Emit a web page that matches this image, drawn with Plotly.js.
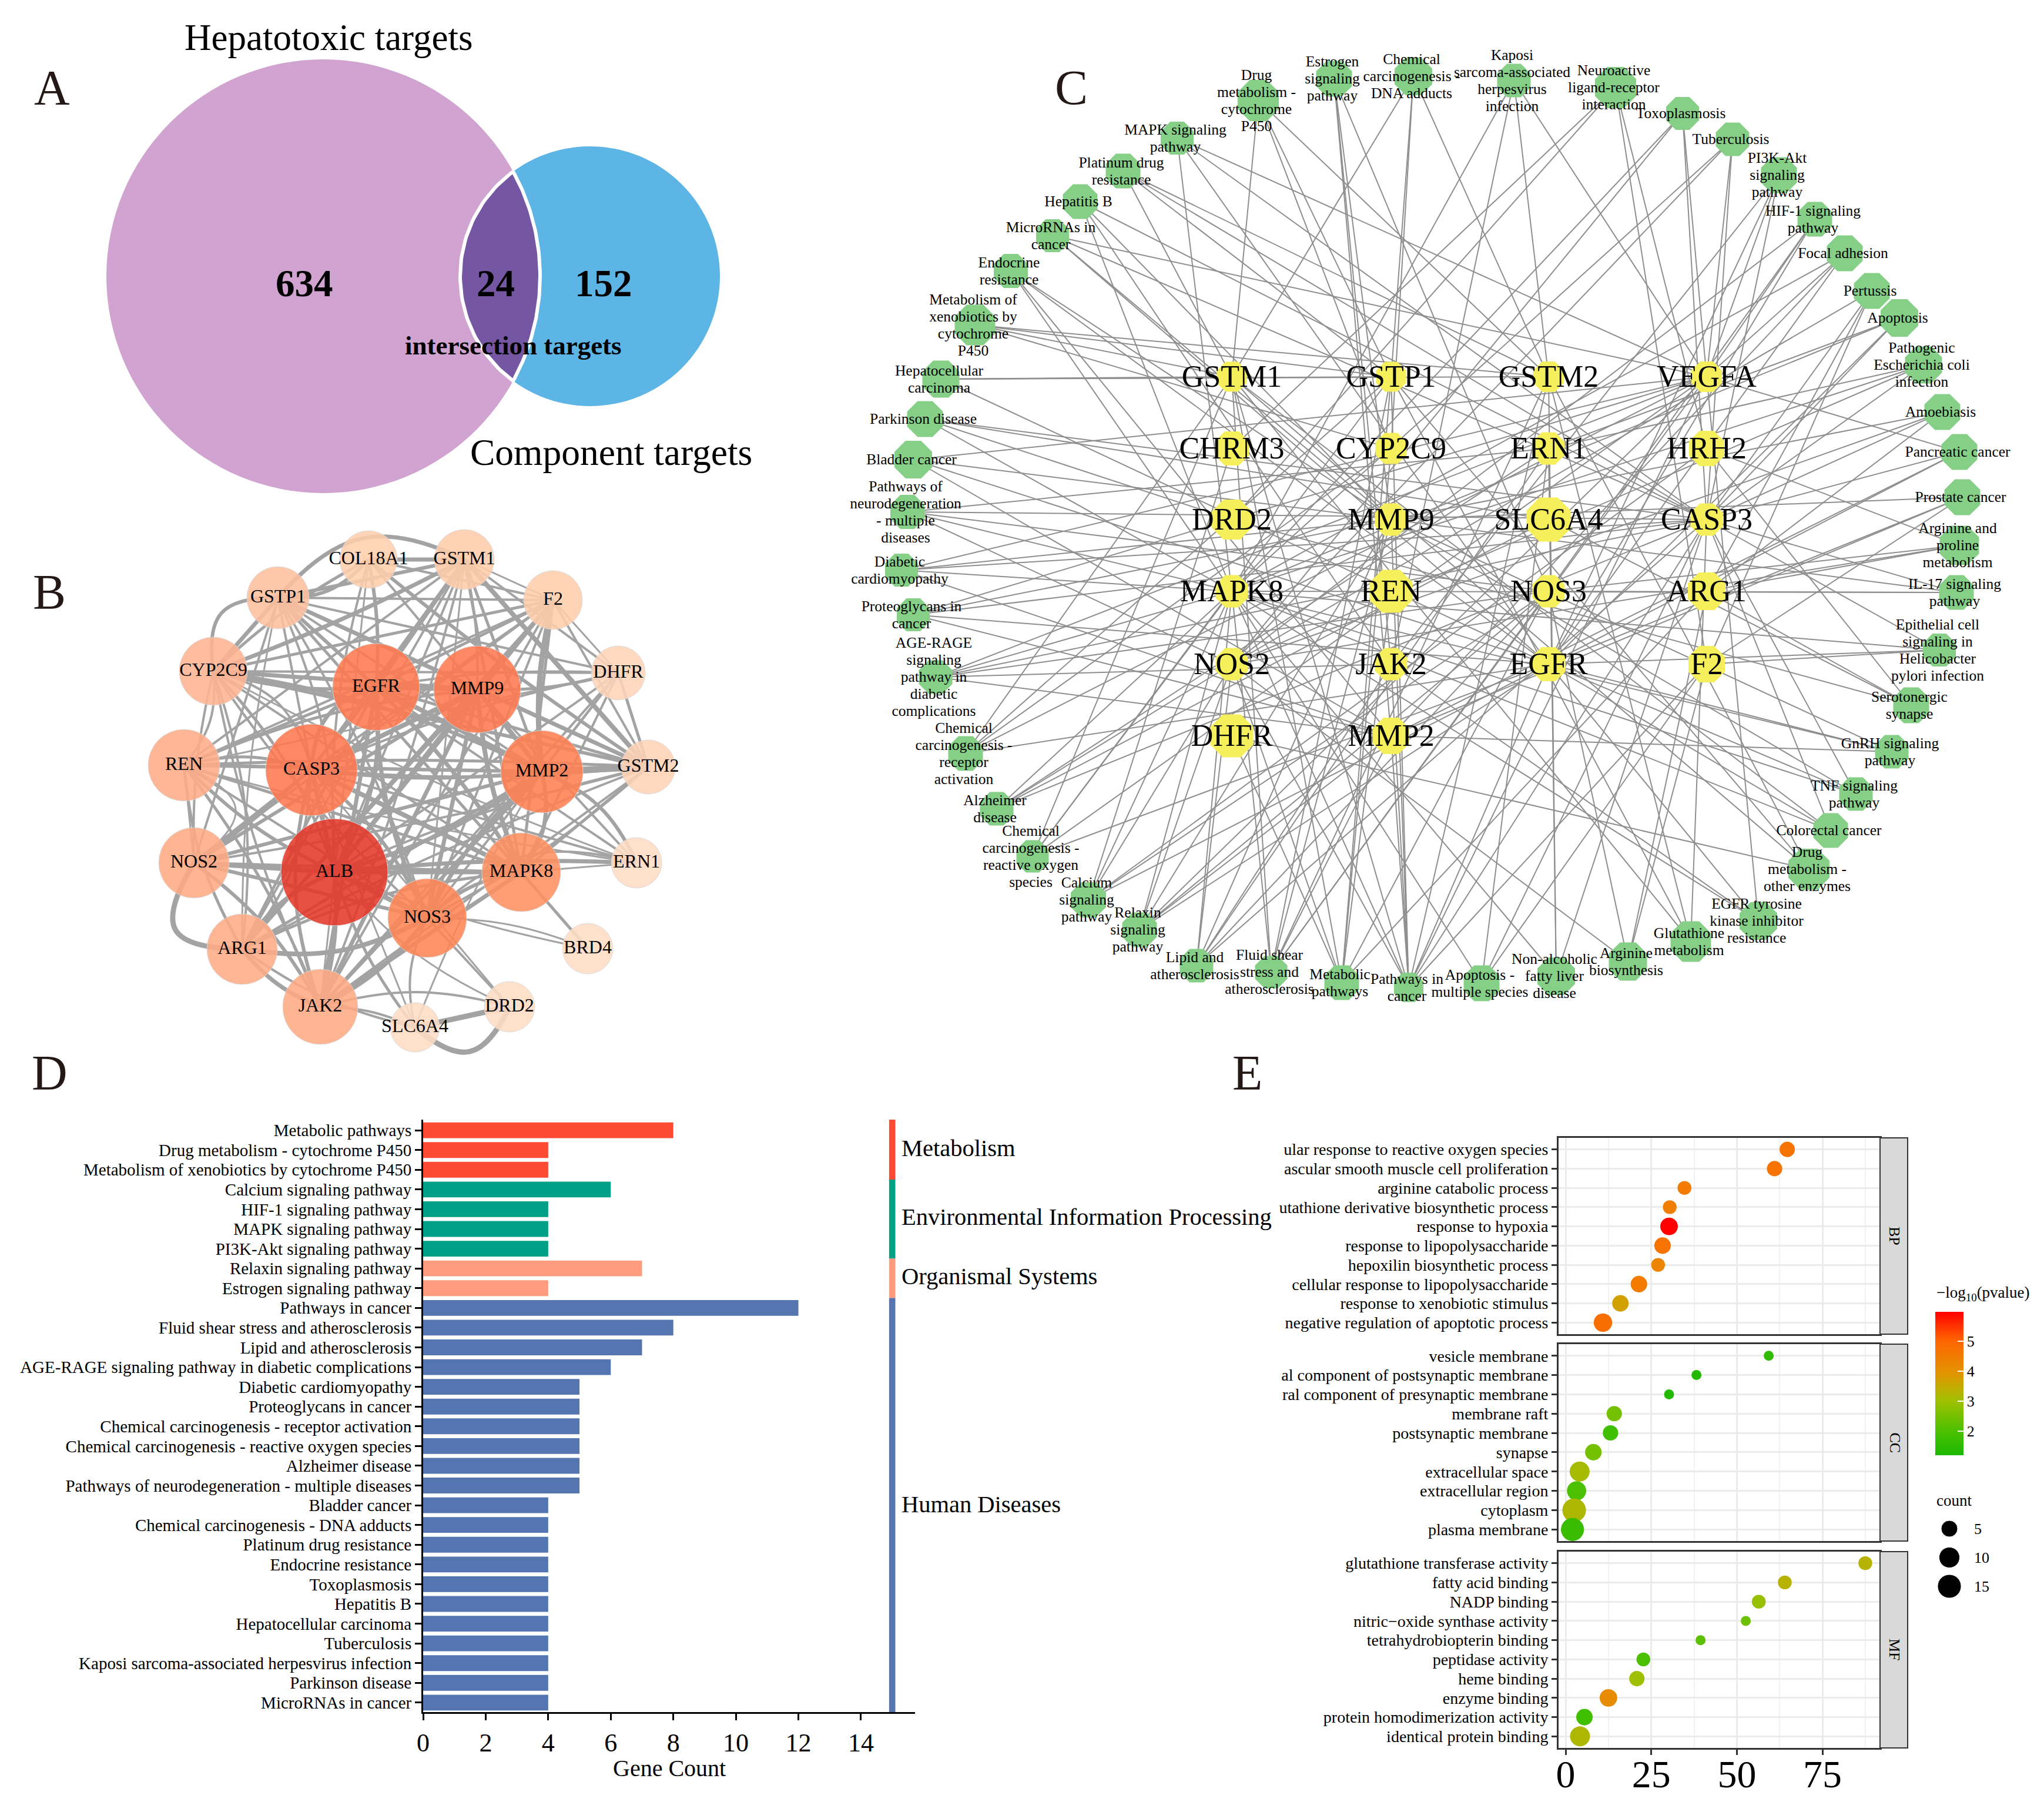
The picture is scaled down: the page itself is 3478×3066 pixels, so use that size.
<!DOCTYPE html>
<html><head><meta charset="utf-8">
<script src="https://cdn.plot.ly/plotly-3.0.1.min.js"></script>
<style>html,body{margin:0;padding:0;background:#fff}</style></head>
<body><div id="chart" style="width:3478px;height:3066px"></div>
<script>
const FONT = '"Liberation Serif","Times New Roman",serif';
// ---------- Panel A ----------
const vennX = [550, 1004], vennY = [470, 470], vennR = [369, 221];
const vennColors = ['#D1A3D0', '#5DB5E5', '#7556A3'];
const vennCounts = ['634', '24', '152'];
const vennCountX = [518, 843, 1027];
// ---------- Panel B ----------
const bNames = ['COL18A1','GSTM1','GSTP1','F2','CYP2C9','DHFR','EGFR','MMP9','REN','CASP3','MMP2','GSTM2','NOS2','ALB','MAPK8','ERN1','NOS3','ARG1','BRD4','JAK2','DRD2','SLC6A4'];
const bX = [627,790,473,941,363,1052,640,812,313,530,922,1103,330,569,887,1083,727,412,1000,545,867,706];
const bY = [952,952,1017,1021,1142,1145,1169,1173,1302,1310,1313,1305,1468,1484,1484,1468,1562,1615,1614,1713,1713,1748];
const bR = [49,51,53,50,58,46,74,74,61,78,70,46,60,91,67,43,67,60,43,64,43,42];
const bColor = ['#FFCFAE','#FFCCAB','#FFC09F','#FFCDAB','#FFB593','#FFD5B9','#FF7A50','#FF7A50','#FFAD88','#FF7850','#FF8052','#FFD3B6','#FFAA84','#E5392A','#FF9062','#FFDCC4','#FF8656','#FFAC86','#FFDCC4','#FFAA84','#FFDCC4','#FFDCC4'];
// "source: target/width/curve"
const bEdges = [
'ALB: CASP3/8 EGFR/7/30 MMP9/7 MMP2/7/20 MAPK8/7 NOS3/8 JAK2/7/-12 ARG1/7/18 NOS2/8 REN/6/-15 CYP2C9/5/25 GSTP1/4/30 GSTM1/4 F2/6 COL18A1/4/-25 ERN1/7/-10 DRD2/3/25 SLC6A4/5/15 BRD4/3/12 DHFR/4 GSTM2/4/-15',
'CASP3: EGFR/7/-35 MMP9/8 MMP2/6/12 MAPK8/8 NOS3/6/-20 JAK2/6/35 ARG1/4/-30 NOS2/6 REN/5/18 CYP2C9/4/40 GSTP1/4 GSTM1/5 F2/4 ERN1/4 DHFR/4/-15 GSTM2/4/14 SLC6A4/3 DRD2/3',
'EGFR: MMP9/8 MMP2/8 MAPK8/7/-14 NOS3/7/25 JAK2/7 ARG1/5 NOS2/5/-22 REN/5 CYP2C9/6/-14 GSTP1/6 GSTM1/7 COL18A1/6/8 F2/5 GSTM2/5 DHFR/4/-12 ERN1/4',
'MMP9: MMP2/8 MAPK8/8/14 NOS3/7 JAK2/7 ARG1/6 NOS2/6 REN/5/22 CYP2C9/7 GSTP1/6 GSTM1/4/8 COL18A1/4 F2/6 GSTM2/5 DHFR/5/10 ERN1/4',
'MMP2: MAPK8/7/-22 NOS3/7/18 JAK2/6 ARG1/5 NOS2/6 REN/6 CYP2C9/6/25 GSTP1/4 GSTM1/5 F2/9/-14 GSTM2/11 DHFR/4 ERN1/6/-25 SLC6A4/3/12',
'MAPK8: NOS3/6/15 JAK2/7 ARG1/5/25 NOS2/5 REN/5 CYP2C9/4 GSTP1/5 GSTM1/5 F2/5 GSTM2/5 ERN1/3 BRD4/5 DHFR/4',
'NOS3: JAK2/7/-15 ARG1/8/-30 NOS2/6 REN/4 CYP2C9/4/-18 GSTM1/3 GSTP1/4/20 F2/4 ERN1/4/-60 BRD4/3/-15 DRD2/4 SLC6A4/4/18 DHFR/4 GSTM2/4/16',
'NOS2: REN/3/80 REN/3 ARG1/9/83 JAK2/6/-20 CYP2C9/4/-12 GSTP1/4 GSTM2/4/12 F2/4',
'ARG1: JAK2/7/12 REN/5/-20 CYP2C9/4/30 F2/4 SLC6A4/4/18 GSTM1/4 GSTM2/4/-12 GSTP1/3/-18',
'JAK2: REN/5/18 F2/4 SLC6A4/4/-10 GSTM2/4 GSTM1/4/14 DHFR/4 COL18A1/3 CYP2C9/4/-20',
'REN: CYP2C9/4/20 GSTM1/4 F2/4 GSTM2/5/-10 DHFR/3 ERN1/3/14',
'CYP2C9: GSTP1/7 GSTP1/6/-55 GSTM1/7/8 GSTM2/6 F2/5 COL18A1/5/-12 DHFR/4 ERN1/3/16',
'GSTP1: GSTM1/7/-70 GSTM1/6 GSTM2/7 COL18A1/6/22 F2/4 DHFR/4',
'GSTM1: GSTM2/8 COL18A1/7 F2/3 DHFR/4',
'COL18A1: GSTM2/6/8 F2/4',
'SLC6A4: DRD2/9 DRD2/9/60',
'DRD2: JAK2/4/25',
'F2: GSTM2/4 DHFR/3',
'DHFR: GSTM2/5'
];
// ---------- Panel C ----------
const hubNames = ['GSTM1','GSTP1','GSTM2','VEGFA','CHRM3','CYP2C9','ERN1','HRH2','DRD2','MMP9','SLC6A4','CASP3','MAPK8','REN','NOS3','ARG1','NOS2','JAK2','EGFR','F2','DHFR','MMP2'];
const hubX = [2096,2367,2635,2904,2096,2367,2635,2904,2096,2367,2635,2904,2096,2367,2635,2904,2096,2367,2635,2904,2096,2367];
const hubY = [641,641,641,641,763,763,763,763,884,884,884,884,1006,1006,1006,1006,1130,1130,1130,1130,1252,1252];
const hubSize = [51,51,52,52,58,53,55,60,68,55,75,55,55,73,55,64,55,55,58,62,73,62];
const pathLabels = ['Drug\nmetabolism -\ncytochrome\nP450','Estrogen\nsignaling\npathway','Chemical\ncarcinogenesis -\nDNA adducts','MAPK signaling\npathway','Platinum drug\nresistance','Hepatitis B','MicroRNAs in\ncancer','Endocrine\nresistance','Metabolism of\nxenobiotics by\ncytochrome\nP450','Hepatocellular\ncarcinoma','Parkinson disease','Bladder cancer','Pathways of\nneurodegeneration\n- multiple\ndiseases','Diabetic\ncardiomyopathy','Proteoglycans in\ncancer','AGE-RAGE\nsignaling\npathway in\ndiabetic\ncomplications','Chemical\ncarcinogenesis -\nreceptor\nactivation','Alzheimer\ndisease','Chemical\ncarcinogenesis -\nreactive oxygen\nspecies','Calcium\nsignaling\npathway','Relaxin\nsignaling\npathway','Lipid and\natherosclerosis','Fluid shear\nstress and\natherosclerosis','Metabolic\npathways','Pathways in\ncancer','Apoptosis -\nmultiple species','Non-alcoholic\nfatty liver\ndisease','Arginine\nbiosynthesis','Glutathione\nmetabolism','EGFR tyrosine\nkinase inhibitor\nresistance','Drug\nmetabolism -\nother enzymes','Colorectal cancer','TNF signaling\npathway','GnRH signaling\npathway','Serotonergic\nsynapse','Epithelial cell\nsignaling in\nHelicobacter\npylori infection','IL-17 signaling\npathway','Arginine and\nproline\nmetabolism','Prostate cancer','Pancreatic cancer','Amoebiasis','Pathogenic\nEscherichia coli\ninfection','Apoptosis','Pertussis','Focal adhesion','HIF-1 signaling\npathway','PI3K-Akt\nsignaling\npathway','Tuberculosis','Toxoplasmosis','Neuroactive\nligand-receptor\ninteraction','Kaposi\nsarcoma-associated\nherpesvirus\ninfection'];
const pathX = [2141,2270,2405,2003,1911,1838,1791,1720,1659,1601,1574,1554,1544,1534,1554,1592,1643,1696,1757,1852,1939,2036,2163,2283,2397,2521,2648,2770,2877,2992,3078,3115,3158,3219,3252,3300,3329,3334,3339,3334,3305,3273,3232,3185,3139,3088,3027,2948,2863,2749,2576];
const pathY = [171,134,130,235,291,343,401,461,553,645,713,782,871,970,1046,1152,1282,1376,1457,1531,1582,1643,1654,1672,1680,1673,1661,1636,1602,1567,1479,1413,1351,1279,1200,1106,1008,928,846,769,701,621,541,495,431,373,298,237,193,149,137];
const pathSize = [70,61,64,56,59,59,56,58,69,63,61,64,58,56,56,57,59,57,55,60,59,57,55,59,50,61,64,65,69,64,70,59,57,57,61,56,59,67,61,61,61,63,64,61,61,59,61,57,56,70,57];
const pathLinks = [
'GSTM1 GSTP1 GSTM2 CYP2C9','MMP9 MMP2 JAK2 NOS3','GSTM1 GSTP1 GSTM2 CYP2C9','MAPK8 VEGFA CASP3 EGFR','GSTM1 GSTP1 GSTM2 CASP3','MMP9 CASP3 MAPK8 JAK2','VEGFA MMP9 CASP3 EGFR','MMP9 MMP2 MAPK8 EGFR','GSTM1 GSTP1 GSTM2 CYP2C9','GSTM1 GSTP1 GSTM2 EGFR','CASP3 MAPK8 DRD2 SLC6A4','VEGFA MMP9 EGFR MMP2',
'ERN1 CASP3 MAPK8 NOS2 NOS3','VEGFA MMP9 CASP3 MAPK8 MMP2','VEGFA CASP3 MMP9 MMP2 EGFR','VEGFA CASP3 MMP2 MAPK8 NOS3 JAK2','VEGFA EGFR GSTM1 GSTP1 CYP2C9','ERN1 CASP3 MAPK8 NOS2 SLC6A4','GSTP1 GSTM1 MAPK8 EGFR VEGFA','CHRM3 HRH2 NOS2 NOS3 EGFR MAPK8','VEGFA MMP9 MMP2 MAPK8 NOS2 NOS3 EGFR','ERN1 MMP9 CASP3 MAPK8 NOS2 JAK2 NOS3','GSTM1 GSTP1 GSTM2 VEGFA MMP9 MMP2 MAPK8 NOS3','CYP2C9 ARG1 NOS2 NOS3 DHFR GSTM1 GSTP1 REN',
'GSTM1 GSTP1 GSTM2 VEGFA MMP9 MMP2 CASP3 MAPK8 JAK2 EGFR NOS2 F2','ERN1 CASP3 MAPK8 F2','GSTM2 ERN1 CASP3 MAPK8','ARG1 NOS2 NOS3 F2','GSTM1 GSTP1 GSTM2 CASP3','VEGFA MAPK8 JAK2 EGFR','GSTM1 GSTP1 GSTM2 DHFR','GSTM1 CASP3 MAPK8 EGFR','CASP3 MAPK8 MMP9 EGFR','MMP2 MAPK8 EGFR MMP9','DRD2 SLC6A4 HRH2 ARG1','CASP3 MAPK8 EGFR F2','MMP9 CASP3 MAPK8 NOS3','ARG1 NOS2 NOS3 HRH2',
'MMP9 MMP2 EGFR F2','VEGFA MMP2 CASP3 EGFR','MMP9 CASP3 ARG1 NOS2','MAPK8 CASP3 NOS2 ERN1','MAPK8 ERN1 CASP3 EGFR','NOS2 F2 CASP3 ARG1','VEGFA MAPK8 EGFR MMP2','VEGFA EGFR NOS2 NOS3','VEGFA CASP3 JAK2 EGFR','VEGFA MAPK8 CASP3 NOS2','VEGFA MAPK8 CASP3 NOS2','CHRM3 HRH2 DRD2 F2','MAPK8 JAK2 VEGFA GSTM2'];
// ---------- Panel D ----------
const dCategories = ['Metabolic pathways','Drug metabolism - cytochrome P450','Metabolism of xenobiotics by cytochrome P450','Calcium signaling pathway','HIF-1 signaling pathway','MAPK signaling pathway','PI3K-Akt signaling pathway','Relaxin signaling pathway','Estrogen signaling pathway','Pathways in cancer','Fluid shear stress and atherosclerosis','Lipid and atherosclerosis','AGE-RAGE signaling pathway in diabetic complications','Diabetic cardiomyopathy','Proteoglycans in cancer','Chemical carcinogenesis - receptor activation','Chemical carcinogenesis - reactive oxygen species','Alzheimer disease','Pathways of neurodegeneration - multiple diseases','Bladder cancer','Chemical carcinogenesis - DNA adducts','Platinum drug resistance','Endocrine resistance','Toxoplasmosis','Hepatitis B','Hepatocellular carcinoma','Tuberculosis','Kaposi sarcoma-associated herpesvirus infection','Parkinson disease','MicroRNAs in cancer'];
const dCounts = [8,4,4,6,4,4,4,7,4,12,8,7,6,5,5,5,5,5,5,4,4,4,4,4,4,4,4,4,4,4];
const dGroupNames = ['Metabolism','Environmental Information Processing','Organismal Systems','Human Diseases'];
const dGroupSizes = [3,4,2,21];
const dGroupColors = ['#FC4B32','#00A087','#FF9B7E','#5575B0'];
const dGroupLabelY = [1953,2070,2171,2559];
// ---------- Panel E ----------
const bpTerms = ['ular response to reactive oxygen species','ascular smooth muscle cell proliferation','arginine catabolic process','utathione derivative biosynthetic process','response to hypoxia','response to lipopolysaccharide','hepoxilin biosynthetic process','cellular response to lipopolysaccharide','response to xenobiotic stimulus','negative regulation of apoptotic process'];
const bpRatio = [64.7,61,34.7,30.4,30.2,28.3,27,21.4,16,10.9];
const bpCount = [4,4,3,3,6,5,3,5,5,7];
const bpLogP = [4.7,4.7,4.5,4.4,5.95,4.7,4.3,4.5,3.7,4.8];
const ccTerms = ['vesicle membrane','al component of postsynaptic membrane','ral component of presynaptic membrane','membrane raft','postsynaptic membrane','synapse','extracellular space','extracellular region','cytoplasm','plasma membrane'];
const ccRatio = [59.3,38.2,30.2,14.2,13.1,8.1,4.1,3.2,2.5,2];
const ccCount = [2,2,2,4,4,5,9,8,15,14];
const ccLogP = [1.5,1.3,1.3,2.5,1.8,2.5,3.1,2.0,3.2,1.7];
const mfTerms = ['glutathione transferase activity','fatty acid binding','NADP binding','nitric\u2212oxide synthase activity','tetrahydrobiopterin binding','peptidase activity','heme binding','enzyme binding','protein homodimerization activity','identical protein binding'];
const mfRatio = [87.5,64,56.4,52.6,39.4,22.7,20.8,12.5,5.5,4.2];
const mfCount = [3,3,3,2,2,3,4,6,5,9];
const mfLogP = [3.3,3.3,2.9,2.4,2.2,2.0,3.0,4.1,1.8,3.2];
const sizeLegendCounts = [5,10,15];
const sizeLegendY = [2601,2650,2699];
const colorScale = [[0,'#1CB800'],[0.17,'#4CC000'],[0.38,'#A0C000'],[0.49,'#C8A800'],[0.59,'#E59000'],[0.8,'#FF6500'],[1,'#FF0000']];

// ---------- helpers ----------
const W = 3478, H = 3066;
const domX = (a,b)=>[a/W,b/W], domY=(top,bot)=>[1-bot/H,1-top/H];
const traces = [], shapes = [], ann = [];
const A = (x,y,text,size,opt={}) => ann.push(Object.assign({xref:'x',yref:'y',x,y,text,showarrow:false,font:{family:FONT,size,color:'#000'},xanchor:'center',yanchor:'middle'},opt));

// A
shapes.push({type:'circle',xref:'x',yref:'y',x0:vennX[0]-vennR[0],x1:vennX[0]+vennR[0],y0:vennY[0]-vennR[0],y1:vennY[0]+vennR[0],fillcolor:vennColors[0],line:{width:0},layer:'below'});
shapes.push({type:'circle',xref:'x',yref:'y',x0:vennX[1]-vennR[1],x1:vennX[1]+vennR[1],y0:vennY[1]-vennR[1],y1:vennY[1]+vennR[1],fillcolor:vennColors[1],line:{width:0},layer:'below'});
{ // overlap lens of the two circles
  const d=vennX[1]-vennX[0],a=(d*d+vennR[0]*vennR[0]-vennR[1]*vennR[1])/(2*d);
  const h=Math.sqrt(vennR[0]*vennR[0]-a*a);
  const t1=Math.atan2(h,a),t2=Math.atan2(h,d-a);
  const lx=[],ly=[];
  for(let i=0;i<=60;i++){const t=-t1+2*t1*i/60;lx.push(vennX[0]+vennR[0]*Math.cos(t));ly.push(vennY[0]+vennR[0]*Math.sin(t));}
  for(let i=0;i<=60;i++){const t=Math.PI-t2+2*t2*i/60;lx.push(vennX[1]+vennR[1]*Math.cos(t));ly.push(vennY[1]+vennR[1]*Math.sin(t));}
  lx.push(lx[0]);ly.push(ly[0]);
  traces.push({type:'scatter',x:lx,y:ly,mode:'lines',fill:'toself',fillcolor:vennColors[2],line:{color:'#FFFFFF',width:6},hoverinfo:'skip',xaxis:'x',yaxis:'y'});
}
A(559,64,'Hepatotoxic targets',63);
A(1040,769,'Component targets',63.5);
vennCounts.forEach((c,i)=>A(vennCountX[i],482,'<b>'+c+'</b>',65));
A(873,588,'<b>intersection targets</b>',45);

// B edges
bEdges.forEach(line=>{
  const [src,rest]=line.split(':');const s=bNames.indexOf(src);
  rest.trim().split(/\s+/).forEach(tok=>{
    const [tn,w,c]=tok.split('/');const t=bNames.indexOf(tn);const curve=+(c||0);
    const x0=bX[s],y0=bY[s],x1=bX[t],y1=bY[t];
    const dx=x1-x0,dy=y1-y0,len=Math.hypot(dx,dy)||1;
    const mx=(x0+x1)/2-dy/len*curve,my=(y0+y1)/2+dx/len*curve;
    traces.push({type:'scatter',x:[x0,mx,x1],y:[y0,my,y1],mode:'lines',line:{color:'#A3A3A3',width:+w,shape:curve?'spline':'linear',smoothing:1.3},hoverinfo:'skip',xaxis:'x',yaxis:'y'});
  });
});
traces.push({type:'scatter',x:bX,y:bY,mode:'markers+text',text:bNames,textposition:'middle center',textfont:{family:FONT,size:32,color:'#000'},marker:{size:bR.map(r=>2*r),color:bColor,opacity:0.88,line:{width:1,color:'#D8D8D8'}},hoverinfo:'skip',cliponaxis:false,xaxis:'x',yaxis:'y'});

// C edges
{const ex=[],ey=[];
 pathLinks.forEach((l,i)=>l.split(' ').forEach(h=>{const k=hubNames.indexOf(h);ex.push(pathX[i],hubX[k],null);ey.push(pathY[i],hubY[k],null);}));
 traces.push({type:'scatter',x:ex,y:ey,mode:'lines',line:{color:'#8E8E8E',width:2},hoverinfo:'skip',xaxis:'x',yaxis:'y'});
}
traces.push({type:'scatter',x:pathX,y:pathY,mode:'markers',marker:{symbol:'octagon',size:pathSize.map(s=>s/0.924),color:'#86CF86',opacity:1,line:{width:0}},hoverinfo:'skip',xaxis:'x',yaxis:'y'});
traces.push({type:'scatter',x:hubX,y:hubY,mode:'markers',marker:{symbol:'octagon',size:hubSize.map(s=>s/0.924),color:'#F5EF5C',opacity:1,line:{width:0}},hoverinfo:'skip',xaxis:'x',yaxis:'y'});
{const tx=[],ty=[],tt=[];
 pathLabels.forEach((l,i)=>{const ls=l.split('\n');ls.forEach((s,j)=>{tx.push(pathX[i]-3);ty.push(pathY[i]+2+(j-(ls.length-1)/2)*29);tt.push(s);});});
 traces.push({type:'scatter',x:tx,y:ty,mode:'text',text:tt,textposition:'middle center',textfont:{family:FONT,size:25.5,color:'#000'},hoverinfo:'skip',cliponaxis:false,xaxis:'x',yaxis:'y'});
}
traces.push({type:'scatter',x:hubX,y:hubY.map(v=>v+4),mode:'text',text:hubNames,textposition:'middle center',textfont:{family:FONT,size:52,color:'#000'},hoverinfo:'skip',cliponaxis:false,xaxis:'x',yaxis:'y'});

// panel letters
[['A',88,149],['B',84,1007],['C',1823,149],['D',84,1825],['E',2122,1825]].forEach(p=>A(p[1],p[2],p[0],84,{font:{family:FONT,size:84,color:'#231815'}}));

// D
{const colors=[];dGroupSizes.forEach((n,g)=>{for(let i=0;i<n;i++)colors.push(dGroupColors[g]);});
 traces.push({type:'bar',orientation:'h',x:dCounts,y:dCategories,marker:{color:colors,line:{width:0}},hoverinfo:'skip',xaxis:'x2',yaxis:'y2',width:0.8});
 let start=0;
 dGroupSizes.forEach((n,g)=>{
   shapes.push({type:'rect',xref:'x2',yref:'y2',x0:14.9,x1:15.1,y0:g==0?-0.54:start-0.5,y1:start+n-0.5+(g==3?0.04:0),fillcolor:dGroupColors[g],line:{width:0},layer:'above'});
   A(1532,dGroupLabelY[g],dGroupNames[g],40.5,{xanchor:'left'});
   start+=n;});
}
A(1139,3008,'Gene Count',40);

// E
const sizeOf=c=>17+24*Math.sqrt((c-2)/14);
const facets=[['x3','y3',bpTerms,bpRatio,bpCount,bpLogP,1936,2270,'BP'],['x4','y4',ccTerms,ccRatio,ccCount,ccLogP,2287,2622,'CC'],['x5','y5',mfTerms,mfRatio,mfCount,mfLogP,2640,2974,'MF']];
facets.forEach((f,i)=>{
  const tr={type:'scatter',mode:'markers',x:f[3],y:f[2],xaxis:f[0],yaxis:f[1],hoverinfo:'skip',
    marker:{size:f[4].map(sizeOf),color:f[5],opacity:1,cmin:1.2,cmax:5.97,colorscale:colorScale,line:{width:0},showscale:i==0}};
  if(i==0)tr.marker.colorbar={x:3293/W,xanchor:'left',y:1-2232/H,yanchor:'top',len:244,lenmode:'pixels',thickness:48,thicknessmode:'pixels',xpad:0,ypad:0,outlinewidth:0,ticks:'inside',ticklen:10,tickcolor:'#FFFFFF',tickwidth:2,tickvals:[2,3,4,5],tickfont:{family:FONT,size:26,color:'#000'}};
  traces.push(tr);
  shapes.push({type:'rect',xref:'x',yref:'y',x0:3199,x1:3246,y0:f[6],y1:f[7],fillcolor:'#D9D9D9',line:{color:'#333333',width:2},layer:'above'});
  A(3224,(f[6]+f[7])/2,f[8],26,{textangle:90});
});
A(3293,2201,'\u2212log<sub>10</sub>(pvalue)',27,{xanchor:'left'});
A(3293,2553,'count',27,{xanchor:'left'});
traces.push({type:'scatter',mode:'markers',x:sizeLegendCounts.map(()=>3317),y:sizeLegendY,marker:{size:sizeLegendCounts.map(sizeOf),color:'#000',opacity:1},hoverinfo:'skip',xaxis:'x',yaxis:'y'});
sizeLegendCounts.forEach((c,i)=>A(3357,sizeLegendY[i],String(c),26,{xanchor:'left'}));

const eX=(t)=>({domain:domX(2652,3199),range:[-2.06,91.8],anchor:t,showgrid:true,gridcolor:'#EBEBEB',gridwidth:3,minor:{dtick:12.5,showgrid:true,gridcolor:'#F2F2F2',gridwidth:1.5},tick0:0,dtick:25,zeroline:false,showline:true,mirror:true,linecolor:'#333333',linewidth:3});
const eY=(t,top,bot,cats)=>({domain:domY(top,bot),type:'category',categoryorder:'array',categoryarray:cats,tickmode:'array',tickvals:cats,ticktext:cats,range:[9.6,-0.6],anchor:t,showgrid:true,gridcolor:'#EBEBEB',gridwidth:3,zeroline:false,showline:true,mirror:true,linecolor:'#333333',linewidth:3,ticks:'outside',ticklen:9,tickwidth:3,tickcolor:'#333333',tickfont:{family:FONT,size:28,color:'#000'},automargin:false});

const layout={
  width:W,height:H,margin:{l:0,r:0,t:0,b:0,pad:0},paper_bgcolor:'#FFFFFF',plot_bgcolor:'rgba(0,0,0,0)',showlegend:false,
  xaxis:{domain:[0,1],range:[0,W],visible:false,fixedrange:true},
  yaxis:{domain:[0,1],range:[H,0],visible:false,fixedrange:true},
  xaxis2:{domain:domX(720,1557),range:[0,15.73],anchor:'y2',tickvals:[0,2,4,6,8,10,12,14],showgrid:false,zeroline:false,showline:true,linecolor:'#000',linewidth:3,ticks:'outside',ticklen:11,tickwidth:3,tickcolor:'#000',tickfont:{family:FONT,size:44,color:'#000'}},
  yaxis2:{domain:domY(1905,2913),type:'category',categoryorder:'array',categoryarray:dCategories,tickmode:'array',tickvals:dCategories,ticktext:dCategories,range:[29.48,-0.54],anchor:'x2',showgrid:false,zeroline:false,showline:true,linecolor:'#000',linewidth:3,ticks:'outside',ticklen:11,tickwidth:3,tickcolor:'#000',tickfont:{family:FONT,size:29,color:'#000'},automargin:false},
  xaxis3:Object.assign(eX('y3'),{showticklabels:false,ticks:''}),
  xaxis4:Object.assign(eX('y4'),{showticklabels:false,ticks:''}),
  xaxis5:Object.assign(eX('y5'),{ticks:'outside',ticklen:9,tickwidth:3,tickcolor:'#333333',ticklabelstandoff:-24,tickfont:{family:FONT,size:66,color:'#000'}}),
  yaxis3:eY('x3',1936,2270,bpTerms),
  yaxis4:eY('x4',2287,2622,ccTerms),
  yaxis5:eY('x5',2640,2974,mfTerms),
  shapes:shapes,annotations:ann,bargap:0.2
};
Plotly.newPlot('chart',traces,layout,{displayModeBar:false,responsive:false});
</script></body></html>
